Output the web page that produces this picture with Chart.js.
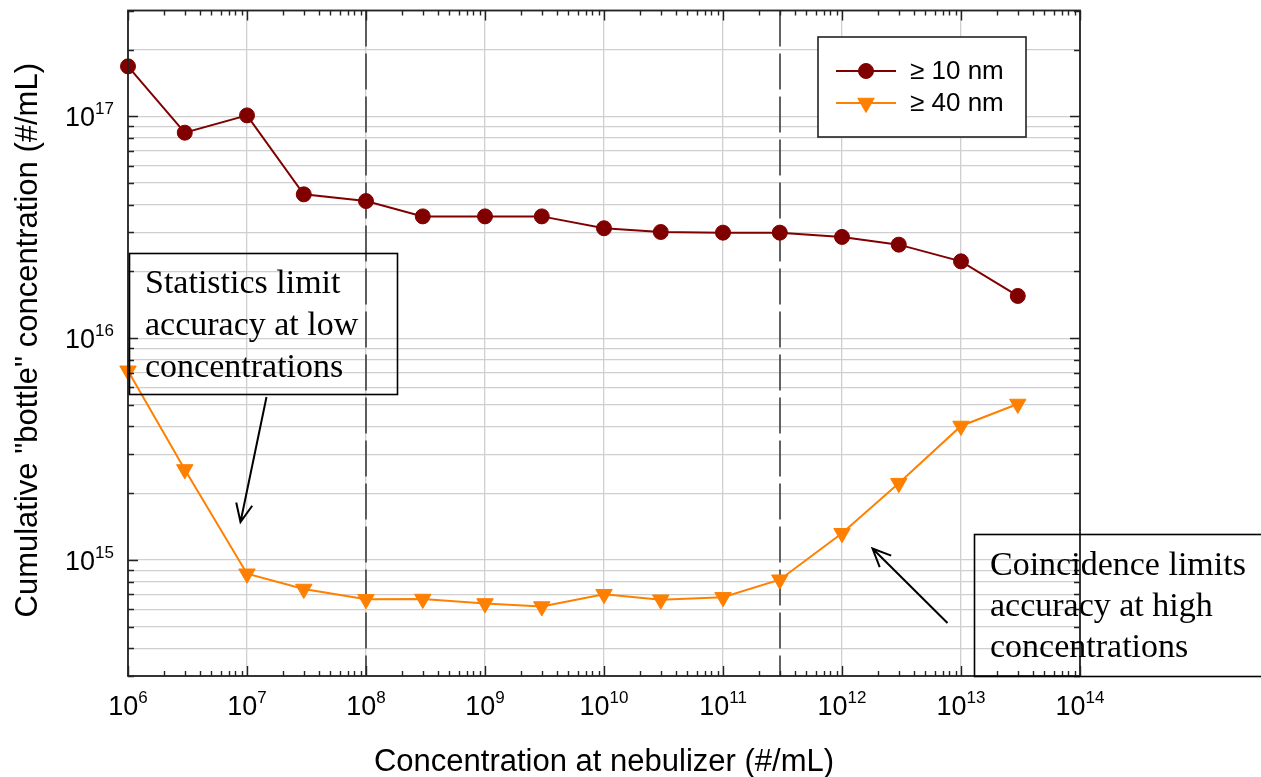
<!DOCTYPE html>
<html><head><meta charset="utf-8">
<script src="https://cdn.jsdelivr.net/npm/chart.js@4.4.1/dist/chart.umd.min.js"></script>
<style>html,body{margin:0;padding:0;background:#fff;overflow:hidden}#wrap{width:1261px;height:777px;position:relative}</style>
</head><body><div id="wrap"><canvas id="c" width="1261" height="777"></canvas></div>
<script>
// ---- data ----
const nebulizerConc = [1e6,3e6,1e7,3e7,1e8,3e8,1e9,3e9,1e10,3e10,1e11,3e11,1e12,3e12,1e13,3e13];
const cum10nm = [1.68e17,8.44e16,1.01e17,4.45e16,4.15e16,3.54e16,3.54e16,3.54e16,3.13e16,3.01e16,2.99e16,2.99e16,2.86e16,2.64e16,2.22e16,1.55e16];
const cum40nm = [7.13e15,2.56e15,8.67e14,7.4e14,6.65e14,6.67e14,6.37e14,6.17e14,7.01e14,6.62e14,6.79e14,8.15e14,1.32e15,2.22e15,4.02e15,5.05e15];
const seriesLabels = ['\u2265 10 nm','\u2265 40 nm'];
const xTickExponents = [6,7,8,9,10,11,12,13,14];
const yTickExponents = [15,16,17];
const xRange = [1e6,1e14];
const yRange = [3e14,3e17];
const regimeLimits = [1e8,3e11];
const xTitle = 'Concentration at nebulizer (#/mL)';
const yTitle = 'Cumulative "bottle" concentration (#/mL)';
const noteLow = ['Statistics limit','accuracy at low','concentrations'];
const noteHigh = ['Coincidence limits','accuracy at high','concentrations'];

// ---- styles ----
const RED = '#800000', ORANGE = '#ff8000';
const SANS = '"Liberation Sans", Arial, sans-serif';
const SERIF = '"Liberation Serif", "Times New Roman", serif';
const GRID = '#cfcfcf';

function logTicks(min, max){
  const out = [];
  for (let e = Math.floor(Math.log10(min)); e <= Math.ceil(Math.log10(max)); e++){
    for (let m = 1; m <= 9; m++){
      const v = m * Math.pow(10, e);
      if (v >= min*0.9999 && v <= max*1.0001) out.push({value: v, major: m === 1});
    }
  }
  return out;
}

const decor = {
  id: 'decor',
  beforeDatasetsDraw(chart){
    const {ctx, chartArea: a, scales: {x}} = chart;
    ctx.save();
    ctx.strokeStyle = '#3c3c3c'; ctx.lineWidth = 1.6; ctx.setLineDash([36, 7]);
    regimeLimits.forEach(v => {
      const px = Math.round(x.getPixelForValue(v));
      ctx.beginPath(); ctx.moveTo(px, a.top); ctx.lineTo(px, a.bottom); ctx.stroke();
    });
    ctx.restore();
  },
  afterDraw(chart){
    const {ctx, chartArea: a, scales: {x, y}} = chart;
    ctx.save();
    // frame
    ctx.strokeStyle = '#222'; ctx.lineWidth = 1.8; ctx.setLineDash([]);
    ctx.strokeRect(a.left, a.top, a.right - a.left, a.bottom - a.top);
    // inward ticks
    ctx.lineWidth = 1.4;
    x.ticks.forEach(t => {
      const px = Math.round(x.getPixelForValue(t.value)) + 0.5;
      const L = t.major ? 10 : 5;
      ctx.beginPath();
      ctx.moveTo(px, a.bottom); ctx.lineTo(px, a.bottom - L);
      ctx.moveTo(px, a.top); ctx.lineTo(px, a.top + L);
      ctx.stroke();
    });
    y.ticks.forEach(t => {
      const py = Math.round(y.getPixelForValue(t.value)) + 0.5;
      const L = t.major ? 10 : 6;
      ctx.beginPath();
      ctx.moveTo(a.left, py); ctx.lineTo(a.left + L, py);
      ctx.moveTo(a.right, py); ctx.lineTo(a.right - L, py);
      ctx.stroke();
    });
    // tick labels
    ctx.fillStyle = '#000';
    ctx.textBaseline = 'alphabetic';
    const base = '27px ' + SANS, sup = '17px ' + SANS;
    function measure(exp){
      ctx.font = base; const w1 = ctx.measureText('10').width;
      ctx.font = sup; const w2 = ctx.measureText(String(exp)).width;
      return [w1, w2];
    }
    xTickExponents.forEach(e => {
      const px = x.getPixelForValue(Math.pow(10, e));
      const [w1, w2] = measure(e);
      const left = px - (w1 + w2) / 2;
      ctx.textAlign = 'left';
      ctx.font = base; ctx.fillText('10', left, 715);
      ctx.font = sup; ctx.fillText(String(e), left + w1, 703);
    });
    yTickExponents.forEach(e => {
      const py = y.getPixelForValue(Math.pow(10, e));
      const [w1, w2] = measure(e);
      const right = a.left - 14;
      ctx.textAlign = 'left';
      ctx.font = base; ctx.fillText('10', right - w1 - w2, py + 10);
      ctx.font = sup; ctx.fillText(String(e), right - w2, py - 2);
    });
    // axis titles
    ctx.font = '31px ' + SANS; ctx.textAlign = 'center';
    ctx.fillText(xTitle, (a.left + a.right) / 2, 771);
    ctx.save();
    ctx.translate(37, (a.top + a.bottom) / 2 - 3);
    ctx.rotate(-Math.PI / 2);
    ctx.fillText(yTitle, 0, 0);
    ctx.restore();

    // annotation boxes
    ctx.strokeStyle = '#000'; ctx.lineWidth = 1.6;
    ctx.strokeRect(129.5, 253.5, 268, 141);
    ctx.strokeRect(974.5, 534.5, 300, 142);
    ctx.font = '34px ' + SERIF; ctx.textAlign = 'left'; ctx.fillStyle = '#000';
    noteLow.forEach((s, i) => ctx.fillText(s, 145, 293 + i * 42));
    noteHigh.forEach((s, i) => ctx.fillText(s, 990, 575 + i * 41));
    // arrows
    function arrow(x1, y1, x2, y2){
      const ang = Math.atan2(y2 - y1, x2 - x1), L = 20, sp = 0.42;
      ctx.beginPath();
      ctx.moveTo(x1, y1); ctx.lineTo(x2, y2);
      ctx.moveTo(x2 - L * Math.cos(ang - sp), y2 - L * Math.sin(ang - sp));
      ctx.lineTo(x2, y2);
      ctx.lineTo(x2 - L * Math.cos(ang + sp), y2 - L * Math.sin(ang + sp));
      ctx.stroke();
    }
    ctx.lineWidth = 2;
    arrow(266.5, 397, 240.5, 522);
    arrow(947.5, 623, 872.5, 548.5);

    // legend
    ctx.fillStyle = '#fff';
    ctx.fillRect(818, 37, 208, 100);
    ctx.strokeStyle = '#222'; ctx.lineWidth = 1.6;
    ctx.strokeRect(818, 37, 208, 100);
    const ds = chart.data.datasets;
    [71, 103].forEach((ly, i) => {
      const d = ds[i];
      ctx.strokeStyle = d.borderColor; ctx.lineWidth = 2;
      ctx.beginPath(); ctx.moveTo(836, ly); ctx.lineTo(896, ly); ctx.stroke();
      ctx.fillStyle = d.backgroundColor; ctx.strokeStyle = d.borderColor; ctx.lineWidth = 1;
      Chart.helpers.drawPoint(ctx, {pointStyle: d.pointStyle, radius: d.pointRadius, rotation: d.rotation || 0, borderWidth: 1}, 866, ly);
      ctx.fillStyle = '#000'; ctx.font = '26px ' + SANS; ctx.textAlign = 'left'; ctx.textBaseline = 'middle';
      ctx.fillText(seriesLabels[i], 910, ly + 1);
    });
    ctx.restore();
  }
};

new Chart(document.getElementById('c'), {
  type: 'line',
  data: {
    datasets: [
      {label: seriesLabels[0], data: nebulizerConc.map((v, i) => ({x: v, y: cum10nm[i]})),
       borderColor: RED, backgroundColor: RED, borderWidth: 2, pointStyle: 'circle', pointRadius: 7.5,
       pointBorderWidth: 1, clip: false},
      {label: seriesLabels[1], data: nebulizerConc.map((v, i) => ({x: v, y: cum40nm[i]})),
       borderColor: ORANGE, backgroundColor: ORANGE, borderWidth: 2, pointStyle: 'triangle', rotation: 180,
       pointRadius: 9.5, pointBorderWidth: 1, clip: false}
    ]
  },
  options: {
    responsive: false, animation: false, events: [],
    layout: {padding: {left: 0, right: 181, top: 10, bottom: 0}},
    plugins: {legend: {display: false}, tooltip: {enabled: false}},
    elements: {line: {tension: 0}},
    scales: {
      x: {type: 'logarithmic', min: xRange[0], max: xRange[1],
          afterBuildTicks: s => { s.ticks = logTicks(xRange[0], xRange[1]); },
          afterFit: s => { s.height = 101; },
          ticks: {display: false},
          border: {display: false},
          grid: {drawTicks: false, lineWidth: 1.3, color: c => (c.tick && c.tick.major) ? GRID : 'rgba(0,0,0,0)'}},
      y: {type: 'logarithmic', min: yRange[0], max: yRange[1],
          afterBuildTicks: s => { s.ticks = logTicks(yRange[0], yRange[1]); },
          afterFit: s => { s.width = 128; },
          ticks: {display: false},
          border: {display: false},
          grid: {drawTicks: false, lineWidth: 1.3, color: GRID}}
    }
  },
  plugins: [decor]
});
</script></body></html>
